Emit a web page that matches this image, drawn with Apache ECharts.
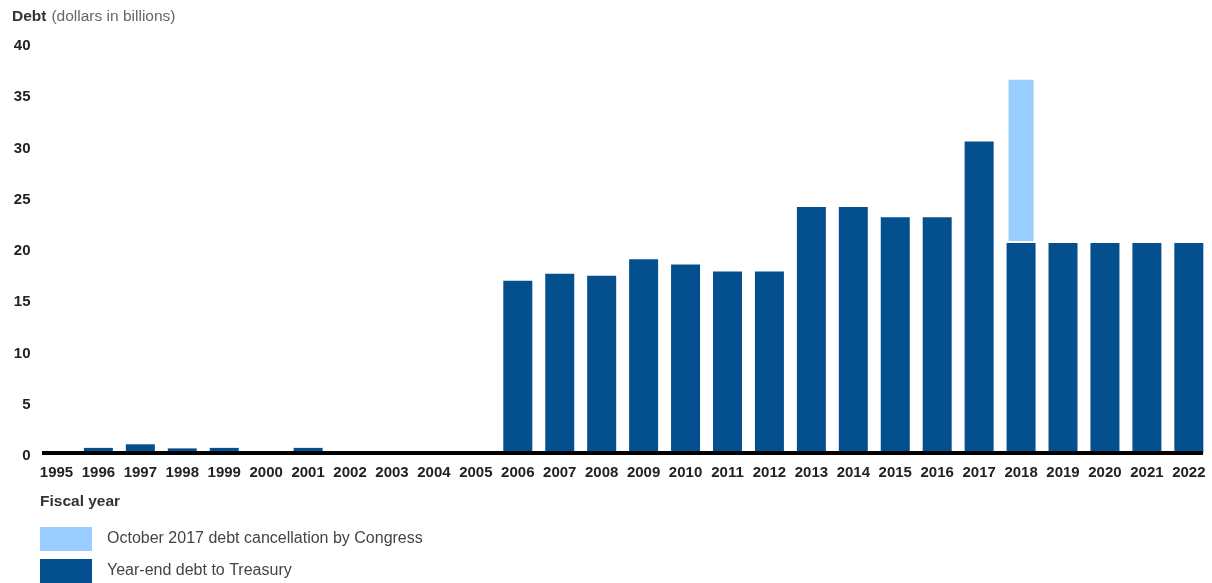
<!DOCTYPE html>
<html>
<head>
<meta charset="utf-8">
<script src="https://cdn.jsdelivr.net/npm/echarts@6/dist/echarts.min.js"></script>
<style>
html,body{margin:0;padding:0;background:#fff;}
#chart{width:1212px;height:583px;}
</style>
</head>
<body>
<div id="chart"></div>
<script>
const years = ['1995','1996','1997','1998','1999','2000','2001','2002','2003','2004','2005','2006','2007','2008','2009','2010','2011','2012','2013','2014','2015','2016','2017','2018','2019','2020','2021','2022'];
const yearEndDebt = [0,0.5,0.85,0.45,0.5,0,0.5,0,0,0,0,16.8,17.5,17.3,18.9,18.4,17.7,17.7,24.0,24.0,23.0,23.0,30.4,20.5,20.5,20.5,20.5,20.5];
const cancellation = [null,null,null,null,null,null,null,null,null,null,null,null,null,null,null,null,null,null,null,null,null,null,null,16.1,null,null,null,null];
const yTicks = {min:0, max:40, interval:5};
const nameDark = 'Year-end debt to Treasury';
const nameLight = 'October 2017 debt cancellation by Congress';

const FONT = '"Liberation Sans", Arial, sans-serif';
const legendBase = {
  orient:'vertical', left:40, padding:0,
  itemWidth:52, itemHeight:24, icon:'rect',
  itemStyle:{borderWidth:0},
  textStyle:{fontFamily:FONT,fontSize:16,color:'#444',padding:[0,0,0,10]}
};
const chart = echarts.init(document.getElementById('chart'), null, {renderer:'canvas'});
chart.setOption({
  animation:false,
  backgroundColor:'#fff',
  textStyle:{fontFamily:FONT},
  title:[
    {text:'{b|Debt} {n|(dollars in billions)}', left:12, top:8, padding:0,
     textStyle:{rich:{b:{fontFamily:FONT,fontSize:15.5,fontWeight:'bold',color:'#333'},
                      n:{fontFamily:FONT,fontSize:15.5,fontWeight:'normal',color:'#666'}}}},
    {text:'Fiscal year', left:40, top:494, padding:0,
     textStyle:{fontFamily:FONT,fontSize:15.5,fontWeight:'bold',color:'#333'}}
  ],
  legend:[
    Object.assign({}, legendBase, {top:527, data:[nameLight]}),
    Object.assign({}, legendBase, {top:559, data:[nameDark]})
  ],
  grid:[
    {left:35.5, right:2.2, top:43, bottom:130, containLabel:false},
    {left:42, right:9, top:43, bottom:130, containLabel:false}
  ],
  xAxis:[
    {type:'category', data:years, gridIndex:0,
     axisLine:{show:false}, axisTick:{show:false},
     axisLabel:{interval:0, margin:12, fontFamily:FONT, fontSize:15, fontWeight:'bold', color:'#222'}},
    {type:'category', data:years, gridIndex:1, z:10,
     axisLine:{show:true, lineStyle:{color:'#000', width:4, cap:'butt'}}, axisTick:{show:false},
     axisLabel:{show:false}}
  ],
  yAxis:[
    {type:'value', gridIndex:0, min:yTicks.min, max:yTicks.max, interval:yTicks.interval,
     splitLine:{show:false}, axisLine:{show:false}, axisTick:{show:false},
     axisLabel:{margin:5, formatter:'{a|{value}}',
       rich:{a:{fontFamily:FONT, fontSize:15, fontWeight:'bold', color:'#222', padding:[6,0,0,0]}}}},
    {type:'value', gridIndex:1, min:yTicks.min, max:yTicks.max, show:false}
  ],
  series:[
    {name:nameDark, type:'bar', stack:'d', data:yearEndDebt, barWidth:29,
     itemStyle:{color:'#04508f'}},
    {name:nameLight, type:'bar', stack:'d', data:cancellation, barWidth:29,
     itemStyle:{color:'#99ccff', borderColor:'#fff', borderWidth:2}}
  ]
});
</script>
</body>
</html>
